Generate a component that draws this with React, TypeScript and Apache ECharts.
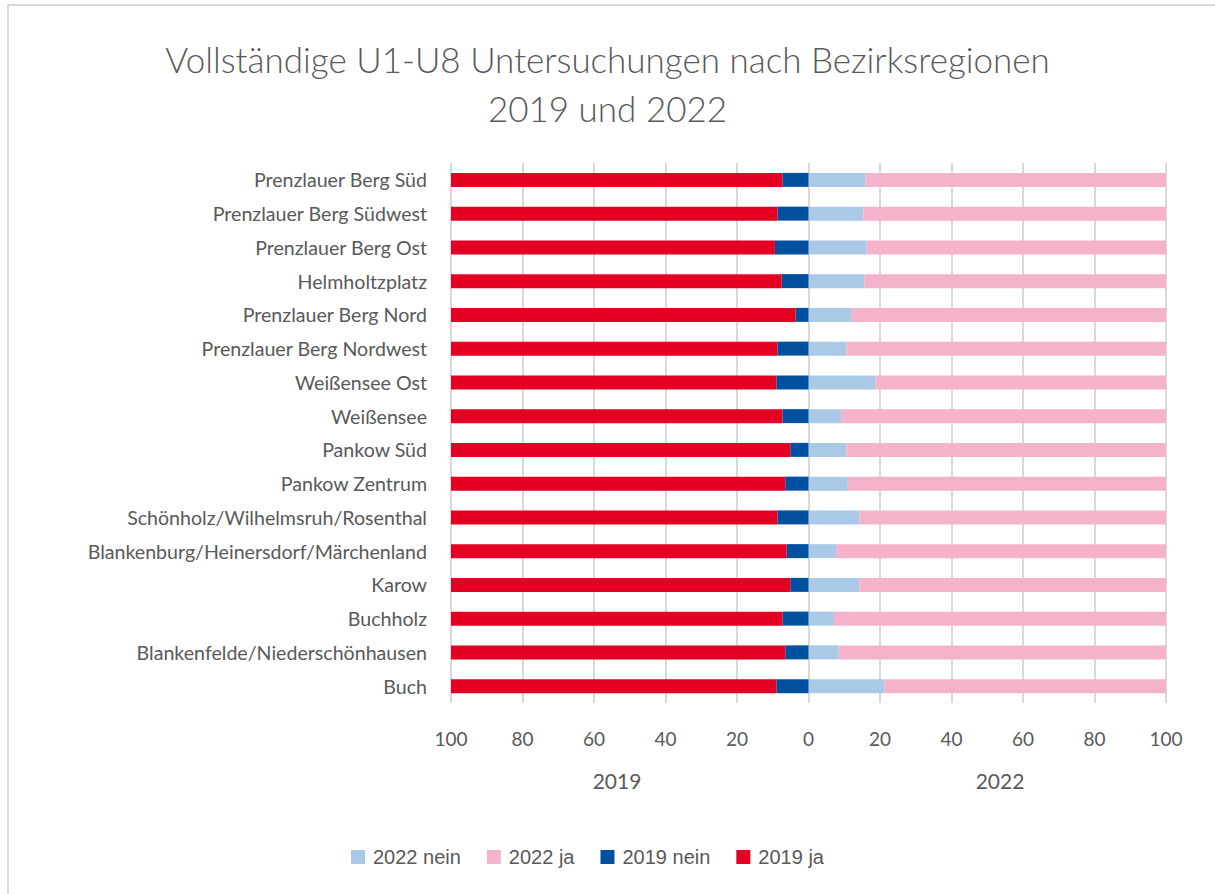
import React, { useEffect, useRef } from "react";
import * as echarts from "echarts";

const categories = [
  "Prenzlauer Berg Süd",
  "Prenzlauer Berg Südwest",
  "Prenzlauer Berg Ost",
  "Helmholtzplatz",
  "Prenzlauer Berg Nord",
  "Prenzlauer Berg Nordwest",
  "Weißensee Ost",
  "Weißensee",
  "Pankow Süd",
  "Pankow Zentrum",
  "Schönholz/Wilhelmsruh/Rosenthal",
  "Blankenburg/Heinersdorf/Märchenland",
  "Karow",
  "Buchholz",
  "Blankenfelde/Niederschönhausen",
  "Buch",
];

const nein2022 = [16.0, 15.3, 16.3, 15.6, 12.1, 10.6, 18.8, 9.1, 10.6, 11.0, 14.2, 7.7, 14.2, 7.1, 8.4, 21.3];
const ja2022 = [84.0, 84.7, 83.7, 84.4, 87.9, 89.4, 81.2, 90.9, 89.4, 89.0, 85.8, 92.3, 85.8, 92.9, 91.6, 78.7];
const nein2019 = [-7.3, -8.7, -9.4, -7.5, -3.6, -8.7, -9.0, -7.3, -5.1, -6.5, -8.7, -6.1, -5.1, -7.3, -6.5, -9.0];
const ja2019 = [-92.7, -91.3, -90.6, -92.5, -96.4, -91.3, -91.0, -92.7, -94.9, -93.5, -91.3, -93.9, -94.9, -92.7, -93.5, -91.0];

const xTicks = [-100, -80, -60, -40, -20, 0, 20, 40, 60, 80, 100];
const periodLabels = ["2019", "2022"];

export default function App() {
  const ref = useRef<HTMLDivElement>(null);
  useEffect(() => {
    if (!ref.current) return;
    const chart = echarts.init(ref.current, null, { renderer: "svg" });
    const labelFont = "Lato, 'Open Sans', sans-serif";
    const mk = (name: string, data: number[], color: string) => ({
      name,
      type: "bar" as const,
      stack: "all",
      data,
      barWidth: 14,
      itemStyle: { color },
      emphasis: { disabled: true },
    });
    chart.setOption({
      animation: false,
      backgroundColor: "#ffffff",
      title: {
        text: "Vollständige U1-U8 Untersuchungen nach Bezirksregionen\n2019 und 2022",
        left: "center",
        top: 29,
        textStyle: {
          fontFamily: labelFont,
          fontWeight: 300,
          fontSize: 35,
          lineHeight: 49,
          color: "#595959",
        },
      },
      legend: {
        bottom: 22,
        left: 346,
        itemWidth: 14,
        itemHeight: 14,
        itemGap: 26,
        icon: "rect",
        textStyle: {
          fontFamily: "'Liberation Sans', Arial, sans-serif",
          fontSize: 20,
          color: "#595959",
          padding: [0, 0, 0, 3],
        },
        data: ["2022 nein", "2022 ja", "2019 nein", "2019 ja"],
      },
      grid: { left: 451, right: 49, top: 163, bottom: 191, containLabel: false },
      xAxis: {
        type: "value",
        min: xTicks[0],
        max: xTicks[xTicks.length - 1],
        interval: 20,
        axisLine: { show: false },
        axisTick: { show: false },
        splitLine: { show: true, lineStyle: { color: "#d9d9d9", width: 2 } },
        axisLabel: {
          margin: 26,
          fontFamily: labelFont,
          fontSize: 19,
          color: "#595959",
          formatter: (v: number) => String(Math.abs(v)),
        },
      },
      yAxis: {
        type: "category",
        inverse: true,
        data: categories,
        axisLine: { show: false },
        axisTick: { show: false },
        axisLabel: {
          margin: 24,
          fontFamily: labelFont,
          fontSize: 19.6,
          color: "#595959",
        },
      },
      graphic: [
        { type: "line", shape: { x1: 8, y1: 5, x2: 8, y2: 894 }, style: { stroke: "#d9d9d9", lineWidth: 2 } },
        { type: "line", shape: { x1: 8, y1: 5, x2: 1215, y2: 5 }, style: { stroke: "#d9d9d9", lineWidth: 2 } },
        {
          type: "text",
          x: 617,
          y: 780,
          style: { text: periodLabels[0], fontFamily: labelFont, fontSize: 21, fill: "#595959", textAlign: "center", textVerticalAlign: "middle" },
        },
        {
          type: "text",
          x: 1000,
          y: 780,
          style: { text: periodLabels[1], fontFamily: labelFont, fontSize: 21, fill: "#595959", textAlign: "center", textVerticalAlign: "middle" },
        },
      ],
      series: [
        mk("2022 nein", nein2022, "#a9c9e6"),
        mk("2022 ja", ja2022, "#f5b3cb"),
        mk("2019 nein", nein2019, "#0050a0"),
        mk("2019 ja", ja2019, "#e30022"),
      ],
    });
    return () => chart.dispose();
  }, []);
  return (
    <div
      ref={ref}
      style={{ position: "fixed", left: 0, top: 0, width: 1215, height: 894, background: "#fff" }}
    />
  );
}
